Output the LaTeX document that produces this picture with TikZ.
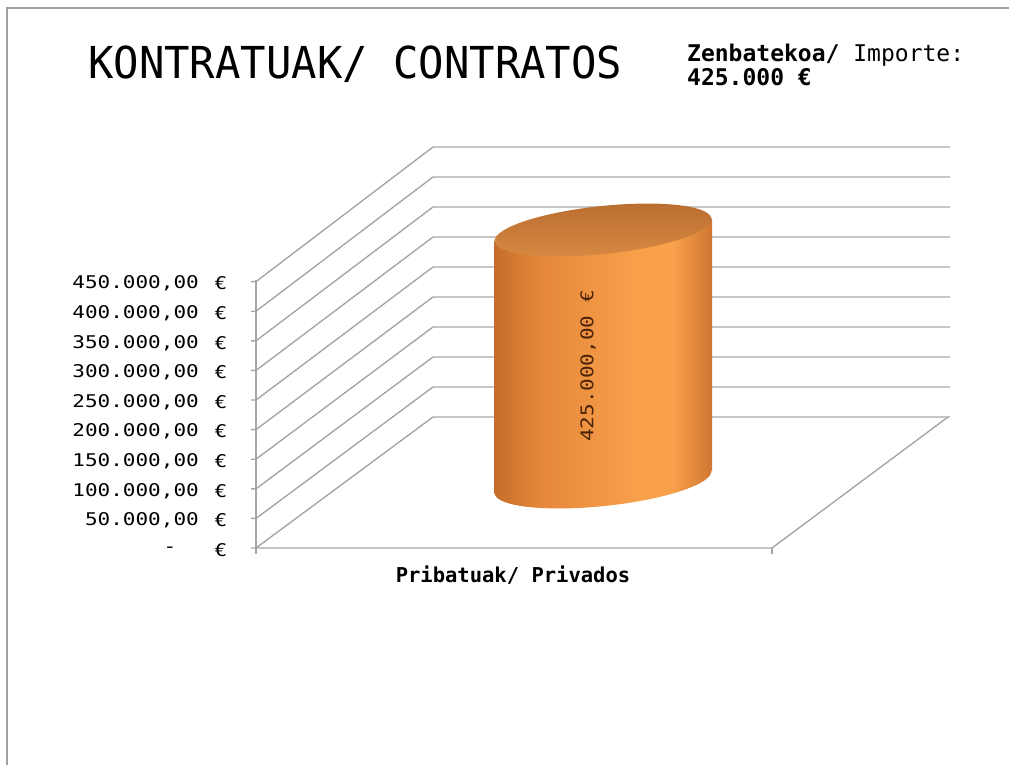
\documentclass[tikz,border=0pt]{standalone}
\usepackage{fontspec}
\newfontfamily\chartfont[FakeStretch=1.2]{DejaVu Sans Mono}
\newfontfamily\titlefont[FakeStretch=0.96]{DejaVu Sans Mono}
\newfontfamily\hdrfont{DejaVu Sans Mono}
\usetikzlibrary{positioning}

\definecolor{wallgray}{HTML}{A6A6A6}
\definecolor{framegray}{HTML}{A0A0A0}
\definecolor{barA}{HTML}{C46C2A}
\definecolor{barB}{HTML}{E5883A}
\definecolor{barC}{HTML}{F9A04B}
\definecolor{barD}{HTML}{CE7632}
\definecolor{topDark}{HTML}{B86C2F}
\definecolor{topLight}{HTML}{D98B44}
\definecolor{labbrown}{HTML}{4A2208}
\pgfdeclarehorizontalshading{barshade}{100bp}{color(0bp)=(barA); color(25bp)=(barA); color(36bp)=(barB); color(58bp)=(barC); color(66bp)=(barC); color(75bp)=(barD); color(100bp)=(barD)}

\tikzset{wall/.style={draw=wallgray,line width=1.4pt,line join=round}}
\tikzset{frame/.style={draw=framegray,line width=2pt}}
\tikzset{ticklab/.style={inner sep=0pt,font=\chartfont\fontsize{17.5}{18}\selectfont}}
\tikzset{titlelab/.style={inner sep=0pt,font=\titlefont\fontsize{44}{44}\selectfont}}
\tikzset{hdrlab/.style={inner sep=0pt,font=\hdrfont\fontsize{23}{23}\selectfont}}

\begin{document}
\begin{tikzpicture}[x=1pt,y=-1pt]
\useasboundingbox (0,0) rectangle (1009,765);
\draw[frame] (7,765) -- (7,8) -- (1009,8);

% walls and floor
\foreach \i in {0,...,9}
  \draw[wall] (251,{548-29.6*\i}) -- (256,{548-29.6*\i}) -- (433,{417-30*\i}) -- (950,{417-30*\i});
\draw[wall] (256,280) -- (256,554);
\draw[wall] (256,548) -- (772,548) -- (948,417);
\draw[wall] (772,548) -- (772,554);

% value axis
\node[ticklab] (val0) at (170,550) {-};
\foreach \lab [count=\i] in {{50.000,00},{100.000,00},{150.000,00},{200.000,00},{250.000,00},{300.000,00},{350.000,00},{400.000,00},{450.000,00}}
  \node[ticklab,anchor=east] (val\i) at (199,{550-29.6*\i}) {\lab};
\foreach \i in {0,...,9}
  \node[ticklab] (eur\i) at (221,{550-29.6*\i}) {€};

% cylinder
\shade[shading=barshade] (494,241.4) -- (494,493.4) -- (712,470.6) -- (712,218.6) -- cycle
  (603,482) circle[x radius=109pt,y radius=24pt,rotate=6];
\shade[top color=topDark,bottom color=topLight] (603,230) circle[x radius=109pt,y radius=24pt,rotate=6];
\node[ticklab,text=labbrown,rotate=90] (barval) at (588,366) {425.000,00 €};

\node[hdrlab,font=\hdrfont\bfseries\fontsize{20.5}{21}\selectfont] (cat) at (513,575) {Pribatuak/ Privados};

% headings
\node[titlelab,anchor=base west] (title) at (88,79) {KONTRATUAK/ CONTRATOS};
\node[hdrlab,anchor=base west] (importe) at (687,62) {\textbf{Zenbatekoa/} Importe:};
\node[hdrlab,font=\hdrfont\bfseries\fontsize{23}{23}\selectfont] (amount) [below=1pt of importe.south west,anchor=north west] {425.000 €};
\end{tikzpicture}
\end{document}
